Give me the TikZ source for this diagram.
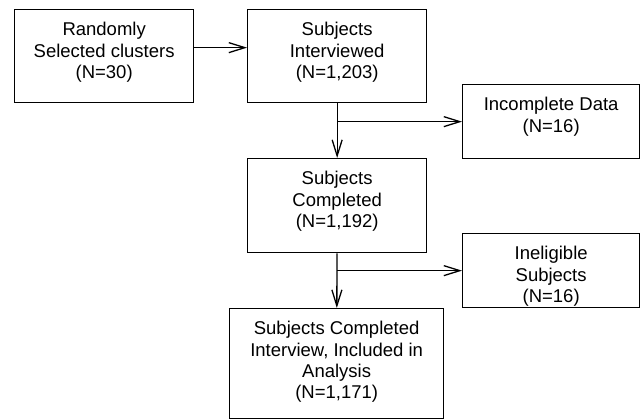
\documentclass[tikz,border=0pt]{standalone}
\usepackage{fontspec}
\setmainfont{Liberation Sans}
\usetikzlibrary{positioning,arrows.meta}

\tikzset{
  box/.style={draw,line width=1.3pt,inner sep=0pt,anchor=north west},
  txt/.style={align=center,inner sep=0pt,font=\fontsize{18.5}{21.4}\selectfont},
  flow/.style={line width=1.3pt,-{Straight Barb[length=16pt,width=10pt]}}
}

\begin{document}
\begin{tikzpicture}[x=1pt,y=-1pt]
  \useasboundingbox (0,0) rectangle (640,419);

  \draw (14,9) node[box,minimum width=179pt,minimum height=93pt] (sel) {};
\draw (247,9) node[box,minimum width=179pt,minimum height=93pt] (int) {};
\draw (462,84) node[box,minimum width=177pt,minimum height=74pt] (inc) {};
\draw (247,158) node[box,minimum width=179pt,minimum height=94pt] (cpl) {};
\draw (462,233) node[box,minimum width=177pt,minimum height=74pt] (inel) {};
\draw (229,308) node[box,minimum width=214pt,minimum height=110pt] (ana) {};

  \node[txt,below=13pt of sel.north] (sel-t) {Randomly\\Selected clusters\\(N=30)};
  \node[txt,below=13pt of int.north] (int-t) {Subjects\\Interviewed\\(N=1,203)};
  \node[txt,below=13pt of inc.north] (inc-t) {Incomplete Data\\(N=16)};
  \node[txt,below=13pt of cpl.north] (cpl-t) {Subjects\\Completed\\(N=1,192)};
  \node[txt,below=13pt of inel.north] (inel-t) {Ineligible\\Subjects\\(N=16)};
  \node[txt,below=13pt of ana.north] (ana-t) {Subjects Completed\\Interview, Included in\\Analysis\\(N=1,171)};

  \draw[flow] ([yshift=8.5pt]sel.east) -- ([yshift=8.5pt]int.west);
  \draw[flow] (int) -- (cpl);
  \draw[flow] (int.south |- inc.west) -- (inc.west);
  \draw[flow] (cpl) -- (ana);
  \draw[flow] (cpl.south |- inel.west) -- (inel.west);

\end{tikzpicture}
\end{document}
